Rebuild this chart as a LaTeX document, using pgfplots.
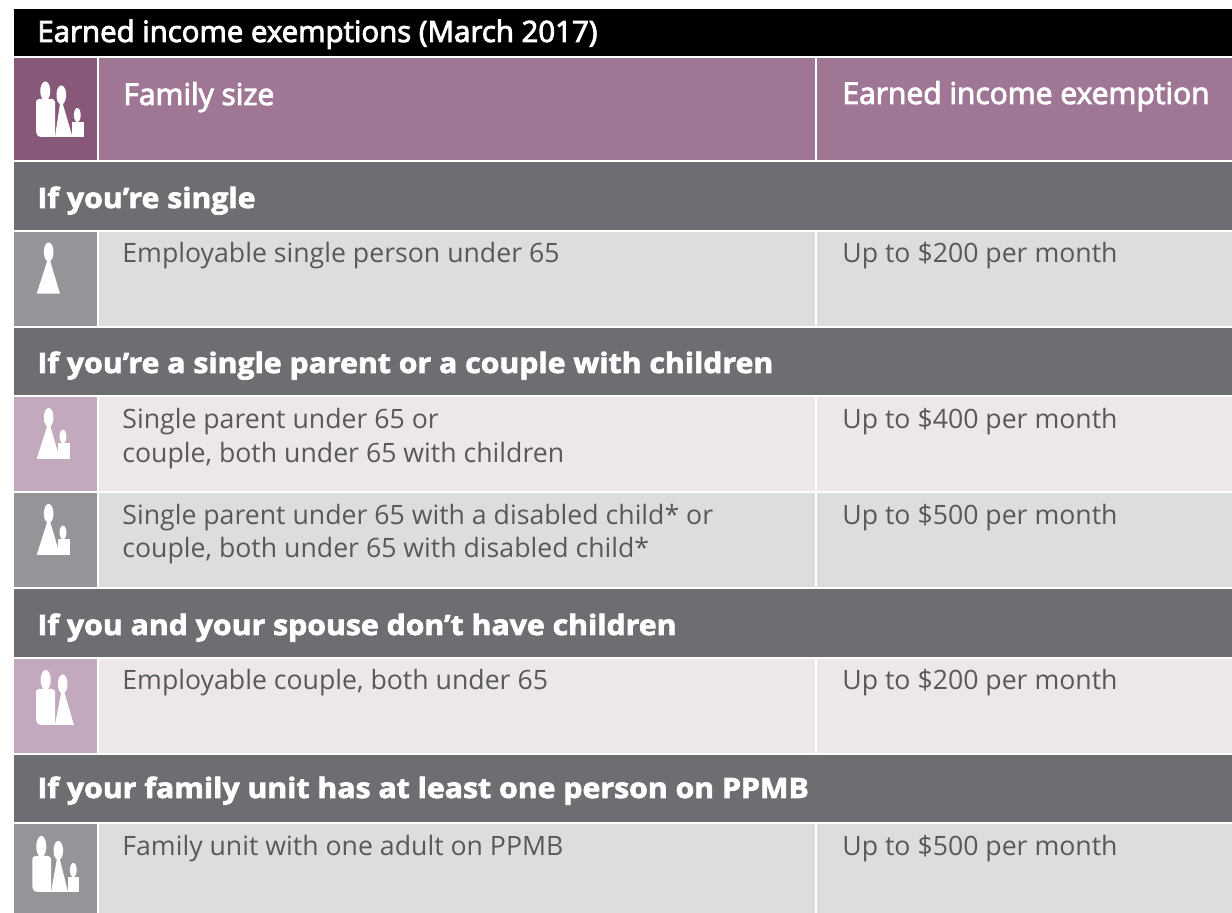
\documentclass[border=0pt]{standalone}
\usepackage{fontspec}
\usepackage{pgfplots}
\pgfplotsset{compat=1.18}
\setmainfont{Open Sans}
\newfontfamily\headfont{Open Sans}[FakeBold=3]
\newfontfamily\bandfont{Open Sans Bold}[FakeBold=2.5,FakeStretch=1.08]

\definecolor{band}{HTML}{6D6E71}
\definecolor{hdr}{HTML}{A07695}
\definecolor{hdrdark}{HTML}{875878}
\definecolor{icongray}{HTML}{939598}
\definecolor{rowgray}{HTML}{DCDDDE}
\definecolor{rowpink}{HTML}{EDE6EB}
\definecolor{iconpink}{HTML}{C3A9BD}
\definecolor{bodytext}{HTML}{58595B}

% x0 y0 x1 y1 colour, in pixels of the reference
\newcommand{\cell}[5]{\addplot[fill=#5,draw=none] coordinates {(#1,#2)(#3,#2)(#3,#4)(#1,#4)} --cycle;}
% polygon helpers for the people icons
\newcommand{\head}[4]{\addplot[fill=white,draw=none,
    x filter/.expression={x*#3+#1},y filter/.expression={y*#4+#2}] coordinates {
    (1,0)(.966,.259)(.866,.5)(.707,.707)(.5,.866)(.259,.966)(0,1)(-.259,.966)(-.5,.866)(-.707,.707)(-.866,.5)(-.966,.259)
    (-1,0)(-.966,-.259)(-.866,-.5)(-.707,-.707)(-.5,-.866)(-.259,-.966)(0,-1)(.259,-.966)(.5,-.866)(.707,-.707)(.866,-.5)(.966,-.259)} --cycle;}
% apex x, apex y, base y, left x, right x
\newcommand{\cone}[5]{\addplot[fill=white,draw=none] coordinates {(#1-1.2,#2)(#1+1.2,#2)(#5,#3)(#4,#3)} --cycle;}
% left, top, right, bottom
\newcommand{\torso}[4]{\addplot[fill=white,draw=none] coordinates {(#1+3,#2)(#3-3,#2)(#3-1,#2+1)(#3,#2+3)(#3,#4)(#1+5,#4)(#1+2,#4-1)(#1+.7,#4-3)(#1,#4-6)(#1,#2+3)(#1+1,#2+1)} --cycle;}
\newcommand{\childbody}[4]{\addplot[fill=white,draw=none] coordinates {(#1,#2)(#3,#2)(#3,#4)(#1,#4)} --cycle;}

\newcommand{\txt}[4]{\node[anchor=base west,inner sep=0pt,text=#3] at (axis cs:#1,#2) {#4};}

\begin{document}
\begin{tikzpicture}
\begin{axis}[
    scale only axis, width=616pt, height=456.5pt,
    xmin=0, xmax=1232, ymin=0, ymax=913, y dir=reverse,
    hide axis, clip=false
]
\cell{0}{0}{1232}{913}{white}
\cell{14}{9}{1232}{56}{black}
\cell{14}{58}{97}{160}{hdrdark}
\cell{99}{58}{815}{160}{hdr}
\cell{817}{58}{1232}{160}{hdr}
% bands
\cell{14}{162}{1232}{230}{band}
\cell{14}{328}{1232}{395}{band}
\cell{14}{589}{1232}{657}{band}
\cell{14}{755}{1232}{822}{band}
% rows
\cell{14}{232}{97}{326}{icongray}
\cell{99}{232}{815}{326}{rowgray}
\cell{817}{232}{1232}{326}{rowgray}
\cell{14}{397}{97}{491}{iconpink}
\cell{99}{397}{815}{491}{rowpink}
\cell{817}{397}{1232}{491}{rowpink}
\cell{14}{493}{97}{587}{icongray}
\cell{99}{493}{815}{587}{rowgray}
\cell{817}{493}{1232}{587}{rowgray}
\cell{14}{659}{97}{753}{iconpink}
\cell{99}{659}{815}{753}{rowpink}
\cell{817}{659}{1232}{753}{rowpink}
\cell{14}{824}{97}{913}{icongray}
\cell{99}{824}{815}{913}{rowgray}
\cell{817}{824}{1232}{913}{rowgray}
% icon: header family
\head{45.3}{91}{5}{9.5}
\torso{36}{99}{55}{137}
\head{61.3}{95}{4.8}{9.5}
\cone{61.3}{103}{137}{55}{72.5}
\head{77.3}{115}{3.4}{7}
\childbody{72}{122}{84}{137}
% icon: single
\head{48.7}{252}{4.8}{9.5}
\cone{48.7}{260}{293.7}{36.7}{60}
% icon: parent and child
\head{48.7}{417.5}{4.8}{9.5}
\cone{48.7}{425}{459}{36.7}{60}
\head{63}{436.5}{3.4}{6.8}
\childbody{57.7}{443}{69.7}{459}
\head{48.7}{513.5}{4.8}{9.5}
\cone{48.7}{521}{555}{36.7}{60}
\head{63}{532.5}{3.4}{6.8}
\childbody{57.7}{539}{69.7}{555}
% icon: couple
\head{45.7}{680}{5}{10}
\torso{36}{689}{55}{725}
\head{62.7}{684}{4.8}{9.5}
\cone{62.7}{691}{725}{55}{74}
% icon: family unit
\head{41.3}{846.5}{5}{10.5}
\torso{32.3}{856}{51}{892}
\head{58.3}{850.5}{4.8}{9.5}
\cone{58.3}{858}{892}{51}{68}
\head{73.3}{870}{3.4}{7}
\childbody{68}{877}{79.3}{892}
% text
\txt{37}{42}{white}{\headfont\fontsize{14.7}{16}\selectfont Earned income exemptions (March 2017)}
\txt{123}{105}{white}{\headfont\fontsize{15}{18}\selectfont Family size}
\txt{842}{104}{white}{\headfont\fontsize{15}{18}\selectfont Earned income exemption}
\txt{37}{208}{white}{\bandfont\fontsize{14}{16}\selectfont If you’re single}
\txt{37}{373}{white}{\bandfont\fontsize{14}{16}\selectfont If you’re a single parent or a couple with children}
\txt{37}{635}{white}{\bandfont\fontsize{14}{16}\selectfont If you and your spouse don’t have children}
\txt{37}{798}{white}{\bandfont\fontsize{14}{16}\selectfont If your family unit has at least one person on PPMB}
\newcommand{\bd}{\fontsize{13.33}{16}\selectfont}
\txt{122}{263}{bodytext}{\bd Employable single person under 65}
\txt{842}{263}{bodytext}{\bd Up to \$200 per month}
\txt{122}{429}{bodytext}{\bd Single parent under 65 or}
\txt{122}{463}{bodytext}{\bd couple, both under 65 with children}
\txt{842}{429}{bodytext}{\bd Up to \$400 per month}
\txt{122}{525}{bodytext}{\bd Single parent under 65 with a disabled child* or}
\txt{122}{558}{bodytext}{\bd couple, both under 65 with disabled child*}
\txt{842}{525}{bodytext}{\bd Up to \$500 per month}
\txt{122}{690}{bodytext}{\bd Employable couple, both under 65}
\txt{842}{690}{bodytext}{\bd Up to \$200 per month}
\txt{122}{856}{bodytext}{\bd Family unit with one adult on PPMB}
\txt{842}{856}{bodytext}{\bd Up to \$500 per month}
\end{axis}
\end{tikzpicture}
\end{document}
